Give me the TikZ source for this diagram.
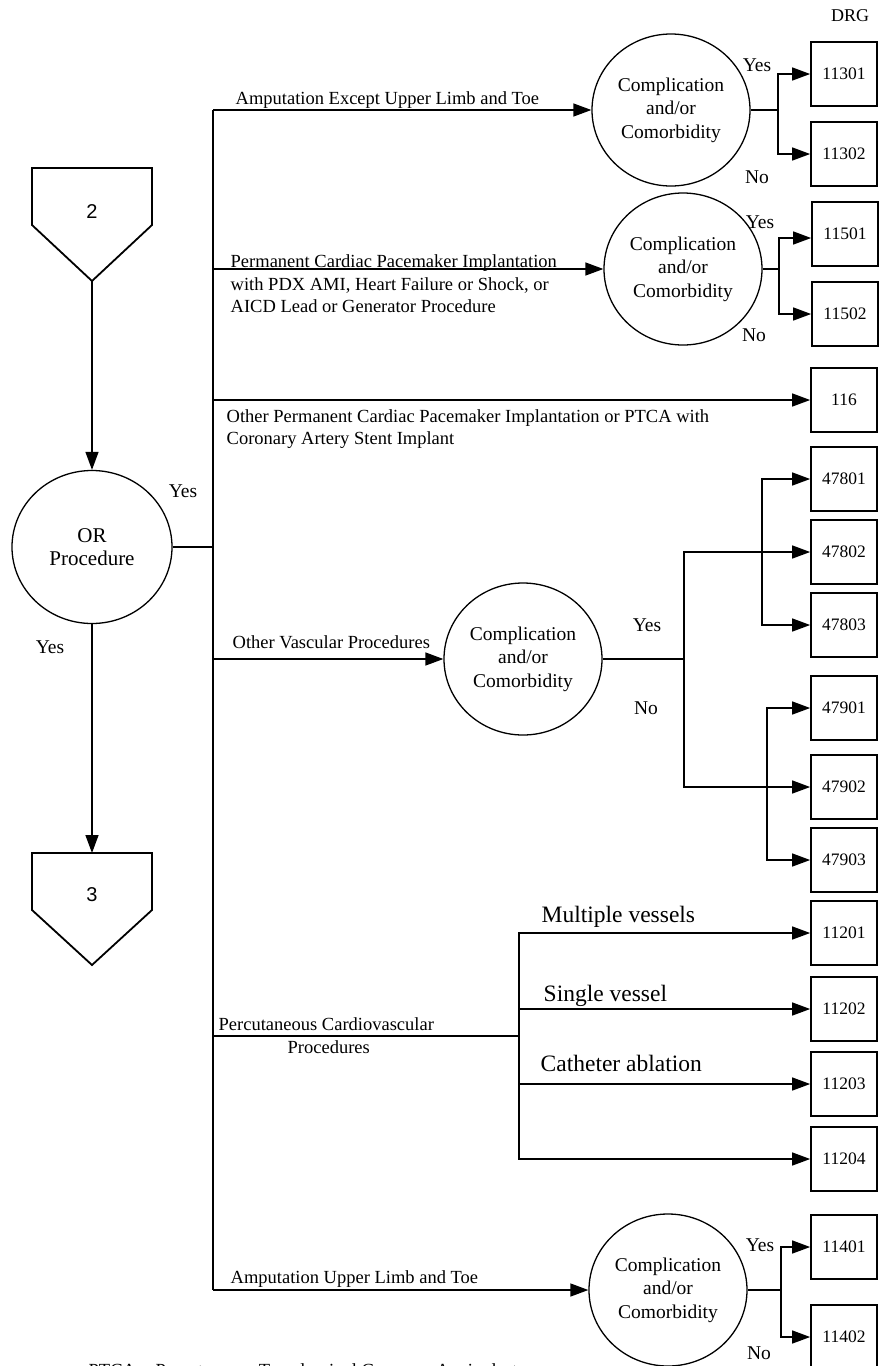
\documentclass[tikz,border=0pt]{standalone}
\usepackage{fontspec}
\setmainfont{Liberation Serif}
\newfontfamily\numfont{Liberation Sans}
\usetikzlibrary{arrows.meta,shapes.geometric}

\begin{document}
\begin{tikzpicture}[x=1pt,y=-1pt,
  line width=1.4pt,
  flow/.style={-{Triangle[length=18pt,width=13pt]}},
  lbl/.style={font=\fontsize{18.5}{22}\selectfont, inner sep=0pt, anchor=base west},
  biglbl/.style={font=\fontsize{23.5}{28}\selectfont, inner sep=0pt, anchor=base west},
  yn/.style={font=\fontsize{19.5}{23}\selectfont, inner sep=0pt},
  ccirc/.style={draw, ellipse, line width=1.3pt, minimum width=158pt, minimum height=152pt,
    inner sep=0pt, align=center, font=\fontsize{19.5}{23.5}\selectfont},
  drgbox/.style={draw, line width=1.7pt, minimum width=66pt, minimum height=64pt,
    inner sep=0pt, font=\fontsize{17.5}{20}\selectfont},
  offpage/.style={line width=1.8pt, line join=miter},
]
\useasboundingbox (0,0) rectangle (880,1366);

% ---------- left column: connectors and OR decision ----------
\draw[offpage] (32,168) -- (152,168) -- (152,225) -- (92,281) -- (32,225) -- cycle;
\coordinate (p2tip) at (92,281);
\node[font=\numfont\fontsize{20}{22}\selectfont] (p2) at (92,212) {2};

\node[draw, ellipse, line width=1.3pt, minimum width=160pt, minimum height=153pt,
  inner sep=0pt, align=center, font=\fontsize{21}{23}\selectfont] (orp) at (92,547) {OR\\Procedure};

\draw[offpage] (32,853) -- (152,853) -- (152,910) -- (92,965) -- (32,910) -- cycle;
\coordinate (p3top) at (92,853);
\node[font=\numfont\fontsize{20}{22}\selectfont] (p3) at (92,895) {3};

\draw[flow] (p2tip) -- (orp.north);
\draw[flow] (orp.south) -- (p3top);
\node[yn] (orYes1) at (183,491) {Yes};
\node[yn] (orYes2) at (50,647) {Yes};

% ---------- main bus ----------
\coordinate (bt) at (213,110);
\coordinate (b2) at (213,269);
\coordinate (b3) at (213,400);
\coordinate (b4) at (213,659);
\coordinate (b5) at (213,1036);
\coordinate (bb) at (213,1290);
\draw (bt) -- (bb);
\draw (orp.east) -- (orp.east -| bt);

\node[font=\fontsize{18}{21}\selectfont] (drg) at (850,16) {DRG};

% ---------- branch 1: amputation except upper limb and toe ----------
\node[ccirc] (c1) at (671,110) {Complication\\and/or\\Comorbidity};
\node[drgbox] (b11301) at (844,74) {11301};
\node[drgbox] (b11302) at (844,154) {11302};
\coordinate (j1) at (778,110);
\draw[flow] (bt) -- (c1.west);
\draw (c1.east) -- (j1);
\draw[flow] (j1) |- (b11301.west);
\draw[flow] (j1) |- (b11302.west);
\node[lbl] (tAmp) at (235,104) {Amputation Except Upper Limb and Toe};
\node[yn] (c1yes) at (757,65) {Yes};
\node[yn] (c1no) at (757,177) {No};

% ---------- branch 2: pacemaker with PDX AMI ----------
\node[ccirc] (c2) at (683,269) {Complication\\and/or\\Comorbidity};
\node[drgbox] (b11501) at (845,234) {11501};
\node[drgbox] (b11502) at (845,314) {11502};
\coordinate (j2) at (779,269);
\draw[flow] (b2) -- (c2.west);
\draw (c2.east) -- (j2);
\draw[flow] (j2) |- ([yshift=-4pt]b11501.west);
\draw[flow] (j2) |- (b11502.west);
\node[lbl] (tPace1) at (230,267) {Permanent Cardiac Pacemaker Implantation};
\node[lbl] (tPace2) at (230,290) {with PDX AMI, Heart Failure or Shock, or};
\node[lbl] (tPace3) at (230,312) {AICD Lead or Generator Procedure};
\node[yn] (c2yes) at (760,222) {Yes};
\node[yn] (c2no) at (754,335) {No};

% ---------- branch 3: other pacemaker / PTCA with stent ----------
\node[drgbox] (b116) at (844,400) {116};
\draw[flow] (b3) -- (b116.west);
\node[lbl] (tOth1) at (226,422) {Other Permanent Cardiac Pacemaker Implantation or PTCA with};
\node[lbl] (tOth2) at (226,444) {Coronary Artery Stent Implant};

% ---------- branch 4: other vascular procedures ----------
\node[ccirc] (c3) at (523,659) {Complication\\and/or\\Comorbidity};
\node[drgbox] (b47801) at (844,479) {47801};
\node[drgbox] (b47802) at (844,552) {47802};
\node[drgbox] (b47803) at (844,625) {47803};
\node[drgbox] (b47901) at (844,708) {47901};
\node[drgbox] (b47902) at (844,787) {47902};
\node[drgbox] (b47903) at (844,860) {47903};
\coordinate (j3) at (684,659);
\coordinate (k3a) at (762,552);
\coordinate (k3b) at (767,787);
\draw[flow] (b4) -- (c3.west);
\draw (c3.east) -- (j3);
\draw (j3) |- (k3a);
\draw (j3) |- (k3b);
\draw[flow] (k3a) -- (b47802.west);
\draw[flow] (k3a) |- (b47801.west);
\draw[flow] (k3a) |- (b47803.west);
\draw[flow] (k3b) -- (b47902.west);
\draw[flow] (k3b) |- (b47901.west);
\draw[flow] (k3b) |- (b47903.west);
\node[lbl] (tVasc) at (232,648) {Other Vascular Procedures};
\node[yn] (c3yes) at (647,625) {Yes};
\node[yn] (c3no) at (646,708) {No};

% ---------- branch 5: percutaneous cardiovascular procedures ----------
\node[drgbox] (b11201) at (844,933) {11201};
\node[drgbox] (b11202) at (844,1009) {11202};
\node[drgbox] (b11203) at (844,1084) {11203};
\node[drgbox] (b11204) at (844,1159) {11204};
\coordinate (j5) at (519,1036);
\draw (b5) -- (j5);
\draw[flow] (j5) |- (b11201.west);
\draw[flow] (j5) |- (b11202.west);
\draw[flow] (j5) |- (b11203.west);
\draw[flow] (j5) |- (b11204.west);
\node[lbl] (tPerc1) at (218,1030) {Percutaneous Cardiovascular};
\node[lbl] (tPerc2) at (287,1053) {Procedures};
\node[biglbl] (tMult) at (541,922) {Multiple vessels};
\node[biglbl] (tSing) at (543,1001) {Single vessel};
\node[biglbl] (tCath) at (540,1071) {Catheter ablation};

% ---------- branch 6: amputation upper limb and toe ----------
\node[ccirc] (c4) at (668,1290) {Complication\\and/or\\Comorbidity};
\node[drgbox] (b11401) at (844,1247) {11401};
\node[drgbox] (b11402) at (844,1337) {11402};
\coordinate (j4) at (781,1290);
\draw[flow] (bb) -- (c4.west);
\draw (c4.east) -- (j4);
\draw[flow] (j4) |- (b11401.west);
\draw[flow] (j4) |- (b11402.west);
\node[lbl] (tAmpU) at (230,1283) {Amputation Upper Limb and Toe};
\node[yn] (c4yes) at (760,1245) {Yes};
\node[yn] (c4no) at (759,1353) {No};

% ---------- footnote (runs past the lower edge) ----------
\begin{scope}
  \clip (0,0) rectangle (880,1366);
  \node[lbl] (fnote) at (88,1376) {PTCA = Percutaneous Transluminal Coronary Angioplasty};
\end{scope}
\end{tikzpicture}
\end{document}
